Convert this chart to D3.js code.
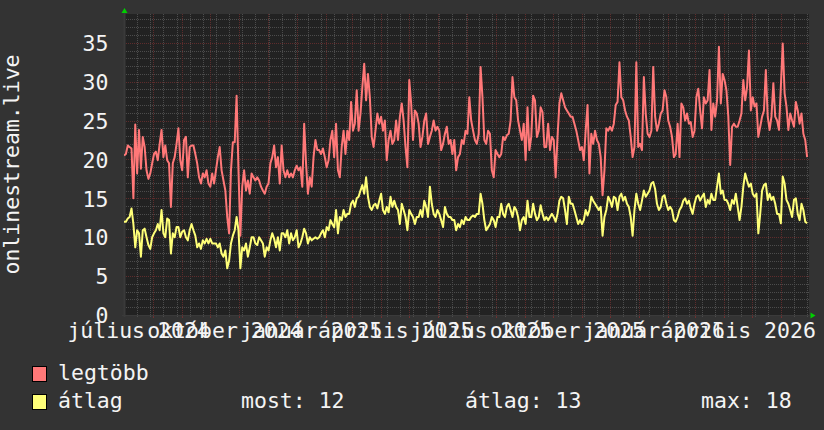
<!DOCTYPE html>
<html>
  <head>
    <meta http-equiv="Content-Type" content="text/html; charset=UTF-8" />
    <title>onlinestream.live</title>
    <script src="https://cdn.jsdelivr.net/npm/d3@7/dist/d3.min.js"></script>
    <style>
      body { margin: 0; background: #333333; }
      svg text { font-family: "DejaVu Sans Mono", monospace; font-size: 21.5px; fill: #f4f4f4; }
    </style>
  </head>
  <body>
    <svg width="824" height="430" id="mainsvg"></svg>
    <script>
        // data: one sample every 2 days, starting 2024-07-01
        const startDay = '2024-07-01';
        const stepDays = 2;
        const maxVals = [
          20.5, 20.7, 21.8, 21.6, 21.4, 15.0, 24.5, 18.2, 23.8, 18.8,
          22.9, 21.6, 18.6, 17.5, 18.2, 19.5, 20.7, 21.0, 19.9, 22.0,
          23.8, 20.3, 21.8, 19.9, 19.5, 13.9, 19.5, 20.3, 22.0, 24.0,
          19.9, 18.6, 22.5, 22.9, 17.7, 21.6, 21.8, 21.8, 20.7, 19.5,
          17.7, 16.9, 18.2, 17.7, 18.6, 16.9, 16.5, 18.2, 16.9, 18.6,
          20.3, 21.6, 18.6, 17.3, 16.0, 12.6, 10.5, 18.6, 22.2, 22.2,
          28.2, 18.6, 10.2, 16.5, 18.6, 16.0, 17.3, 15.6, 18.2, 17.7,
          17.3, 17.7, 17.3, 16.5, 16.0, 15.6, 16.5, 16.9, 19.5, 20.3,
          21.8, 19.0, 20.3, 16.9, 21.8, 18.6, 17.7, 18.6, 17.7, 18.2,
          17.7, 18.6, 19.2, 18.6, 19.0, 16.5, 24.6, 19.5, 15.6, 17.7,
          16.5, 20.3, 22.5, 21.2, 21.2, 20.7, 21.4, 20.3, 19.0, 19.9,
          22.5, 23.7, 20.3, 24.6, 18.6, 17.7, 21.6, 23.7, 20.7, 23.7,
          22.5, 27.4, 23.7, 24.6, 28.9, 23.7, 25.9, 29.3, 32.3, 27.6,
          31.0, 28.0, 22.9, 21.6, 23.7, 25.9, 24.6, 25.5, 23.7, 25.0,
          19.9, 22.5, 23.7, 22.0, 22.5, 25.0, 22.5, 25.5, 27.2, 25.0,
          21.6, 19.0, 30.2, 27.2, 22.5, 26.3, 25.9, 24.6, 21.6, 22.9,
          25.0, 25.9, 22.0, 22.9, 23.7, 25.0, 23.7, 24.2, 23.7, 21.2,
          22.0, 23.3, 24.2, 22.0, 22.5, 20.7, 22.5, 18.6, 20.3, 20.7,
          22.5, 22.0, 23.7, 23.3, 28.0, 25.0, 23.7, 22.5, 22.0, 23.3,
          31.9, 28.0, 22.5, 22.0, 23.7, 23.3, 18.6, 17.7, 21.2, 20.7,
          20.3, 20.7, 22.9, 22.5, 23.1, 23.3, 25.0, 30.6, 28.0, 27.6,
          25.0, 23.7, 22.5, 24.6, 19.9, 26.7, 21.2, 22.9, 28.2, 27.6,
          22.9, 23.7, 26.7, 26.1, 21.6, 21.6, 24.6, 21.2, 22.9, 22.5,
          17.7, 22.9, 27.2, 28.5, 27.6, 26.7, 26.3, 25.9, 25.5, 25.5,
          24.6, 23.7, 22.5, 21.2, 21.6, 19.9, 23.7, 27.0, 18.2, 23.3,
          22.0, 23.7, 22.5, 22.0, 20.3, 15.4, 18.6, 24.0, 23.7, 24.2,
          23.7, 24.6, 27.0, 27.4, 32.5, 28.0, 27.6, 26.3, 25.5, 25.0,
          22.9, 20.3, 21.6, 32.5, 21.6, 22.0, 21.2, 30.6, 25.9, 23.3,
          22.9, 23.7, 31.9, 25.5, 23.7, 24.6, 25.9, 26.3, 28.9, 28.0,
          25.0, 24.2, 22.9, 20.3, 20.7, 24.6, 20.3, 27.2, 26.7, 25.0,
          25.9, 24.6, 24.8, 22.9, 23.7, 28.0, 29.1, 26.3, 24.0, 28.0,
          27.2, 27.6, 31.5, 23.8, 27.2, 25.5, 27.6, 34.5, 27.2, 31.0,
          30.2, 28.9, 25.5, 19.3, 24.2, 24.6, 24.2, 24.2, 25.0, 25.9,
          30.2, 27.6, 29.3, 34.0, 26.3, 28.0, 26.8, 27.2, 22.9, 24.2,
          25.5, 26.3, 31.5, 25.5, 23.8, 25.5, 29.8, 25.5, 25.0, 23.8,
          29.3, 34.9, 28.5, 26.8, 23.8, 25.9, 25.0, 24.2, 27.4, 26.3,
          24.6, 25.9, 23.3, 22.5, 20.3
        ];
        const avgVals = [
          12.0, 12.0, 12.4, 12.6, 13.7, 11.7, 8.7, 10.9, 10.5, 7.5,
          10.9, 11.1, 10.0, 9.0, 8.5, 10.0, 10.5, 10.9, 11.7, 10.9,
          13.5, 10.5, 10.0, 12.4, 12.2, 7.9, 10.5, 10.0, 11.3, 11.3,
          10.0, 10.7, 10.9, 10.0, 9.6, 10.9, 11.7, 10.9, 10.2, 8.7,
          9.2, 8.5, 9.6, 9.2, 9.8, 9.2, 9.8, 9.2, 9.2, 9.2,
          8.7, 9.2, 7.9, 7.5, 8.3, 6.0, 7.0, 9.2, 10.2, 10.9,
          12.6, 10.9, 6.0, 8.7, 8.3, 9.2, 7.5, 8.7, 10.0, 10.0,
          9.2, 9.0, 10.0, 9.6, 9.2, 7.5, 8.7, 8.3, 9.6, 10.5,
          9.8, 8.7, 10.0, 8.3, 10.5, 10.5, 10.0, 10.9, 9.2, 10.5,
          9.6, 10.0, 10.9, 8.7, 9.2, 10.0, 11.1, 10.5, 9.2, 10.0,
          9.6, 9.8, 10.0, 9.8, 10.0, 10.5, 10.9, 10.0, 11.3, 10.9,
          12.2, 11.7, 11.3, 13.5, 10.5, 12.6, 12.2, 13.5, 12.6, 13.0,
          13.0, 14.3, 14.7, 13.9, 15.0, 15.2, 16.0, 16.7, 15.6, 17.7,
          15.2, 13.9, 13.5, 14.1, 14.3, 13.7, 14.7, 15.6, 13.5, 13.0,
          13.9, 13.2, 15.2, 13.9, 14.7, 13.9, 13.5, 11.7, 14.3, 13.5,
          12.6, 10.9, 13.5, 13.0, 12.6, 11.7, 12.6, 12.6, 13.5, 12.6,
          14.7, 13.9, 12.6, 16.5, 14.3, 13.0, 12.6, 13.5, 13.0, 12.2,
          11.3, 13.9, 13.0, 12.6, 12.6, 12.2, 12.2, 10.9, 11.7, 11.3,
          12.2, 11.7, 12.6, 12.2, 12.2, 12.6, 12.8, 12.6, 13.0, 13.0,
          15.6, 14.3, 12.2, 10.9, 11.3, 11.7, 12.6, 12.2, 11.3, 12.6,
          12.6, 14.3, 13.0, 12.6, 13.9, 14.3, 13.5, 12.6, 13.9, 13.5,
          12.6, 10.9, 12.2, 12.6, 11.7, 14.7, 12.6, 12.6, 14.3, 13.0,
          12.2, 12.6, 14.1, 13.0, 12.2, 12.6, 12.2, 12.6, 13.0, 12.6,
          12.0, 13.0, 14.7, 15.2, 15.0, 13.5, 11.7, 15.2, 14.3, 14.3,
          13.5, 12.6, 11.7, 12.2, 11.7, 12.2, 13.5, 12.8, 13.5, 15.2,
          14.7, 14.3, 13.9, 13.5, 13.9, 10.2, 12.6, 13.5, 15.2, 14.7,
          13.9, 15.2, 15.0, 13.5, 15.2, 15.6, 14.7, 15.2, 14.3, 13.9,
          12.6, 10.2, 13.5, 15.6, 14.3, 13.5, 14.7, 16.0, 15.2, 15.6,
          16.0, 16.9, 17.1, 16.2, 14.3, 13.5, 13.9, 15.2, 15.4, 14.3,
          13.5, 13.9, 13.5, 12.2, 12.0, 12.6, 13.5, 13.9, 14.7, 15.0,
          14.3, 14.7, 13.7, 13.0, 14.3, 15.2, 15.4, 14.7, 15.2, 15.6,
          13.9, 14.8, 14.3, 15.6, 14.8, 14.8, 16.5, 18.2, 15.6, 16.0,
          14.8, 14.8, 14.3, 13.5, 14.8, 14.3, 15.6, 13.9, 12.2, 13.9,
          16.5, 18.2, 17.3, 16.5, 16.9, 15.6, 15.2, 15.6, 10.5, 13.0,
          16.0, 16.7, 16.9, 14.8, 15.6, 14.8, 15.2, 14.3, 13.0, 13.0,
          11.8, 17.8, 16.9, 14.8, 14.3, 13.5, 12.6, 14.8, 15.0, 13.0,
          12.2, 14.3, 13.5, 12.0, 11.8
        ];
        const seriesNames = ['legtöbb', 'átlag'];
        const seriesColors = ['#ff7878', '#ffff78'];
        const statLabels = ['most: 12', 'átlag: 13', 'max: 18'];
        const yTicks = [0, 5, 10, 15, 20, 25, 30, 35];
        const xLabelMonths = ['2024-07-01', '2024-10-01', '2025-01-01', '2025-04-01',
                              '2025-07-01', '2025-10-01', '2026-01-01', '2026-04-01'];
        const xLabels = ['július 2024', 'október 2024', 'január 2025', 'április 2025',
                         'július 2025', 'október 2025', 'január 2026', 'április 2026'];
        const yTitle = 'onlinestream.live';

        const svg = d3.select('#mainsvg');
        const width = +svg.attr('width');
        const height = +svg.attr('height');
        const plot = {left: 124, right: 809, top: 14, bottom: 315};
        const DAY = 864e5;
        const parse = d3.utcParse('%Y-%m-%d');
        const t0 = parse(startDay);

        const xScale = d3.scaleUtc()
          .domain([t0, d3.utcYear.offset(t0, 2)])
          .range([plot.left, plot.right]);
        const yScale = d3.scaleLinear()
          .domain([0, 38.7])
          .range([plot.bottom, plot.top]);
        // rounded copies for crisp grid lines
        const xGrid = xScale.copy().interpolate(d3.interpolateRound);
        const yGrid = yScale.copy().interpolate(d3.interpolateRound);

        const toRows = vals => vals.map((v, i) => ({date: new Date(+t0 + i * stepDays * DAY), v: v}));
        const series = [toRows(maxVals), toRows(avgVals)];

        svg.append('rect').attr('width', width).attr('height', height).attr('fill', '#333333');
        svg.append('rect')
          .attr('x', plot.left).attr('y', plot.top)
          .attr('width', plot.right - plot.left).attr('height', plot.bottom - plot.top)
          .attr('fill', '#222222');

        const pw = plot.right - plot.left;
        const ph = plot.bottom - plot.top;

        // minor grid
        const yMinor = d3.range(1, 39).filter(v => v % 5 !== 0);
        const gyMinor = svg.append('g').attr('transform', `translate(${plot.left},0)`)
          .call(d3.axisLeft(yGrid).tickValues(yMinor).tickSize(-pw).tickFormat(''));
        const xMinor = d3.range(14, 730, 14).map(d => d3.utcDay.offset(t0, d));
        const gxMinor = svg.append('g').attr('transform', `translate(0,${plot.top})`)
          .call(d3.axisTop(xGrid).tickValues(xMinor).tickSize(-ph - 2).tickFormat(''));
        [gyMinor, gxMinor].forEach(g => {
          g.select('.domain').remove();
          g.selectAll('line').attr('stroke', '#4c4c4c').attr('stroke-dasharray', '1,1');
        });

        // major grid
        const xMajor = d3.utcMonth.range(d3.utcMonth.offset(t0, 1), d3.utcYear.offset(t0, 2));
        const gxMajor = svg.append('g').attr('transform', `translate(0,${plot.top})`)
          .call(d3.axisTop(xGrid).tickValues(xMajor).tickSize(-ph).tickFormat(''));
        const gyMajor = svg.append('g').attr('transform', `translate(${plot.left},0)`)
          .call(d3.axisLeft(yGrid).tickValues(yTicks.filter(v => v > 0)).tickSize(-pw).tickFormat(''));
        [gyMajor, gxMajor].forEach(g => {
          g.select('.domain').remove();
          g.selectAll('line').attr('stroke', '#5e2c2c').attr('stroke-dasharray', '1,1');
        });
        // small ticks under the x axis
        svg.append('g').selectAll('line').data(xMajor).join('line')
          .attr('x1', d => xGrid(d) + 0.5).attr('x2', d => xGrid(d) + 0.5)
          .attr('y1', plot.bottom).attr('y2', plot.bottom + 3)
          .attr('stroke', '#6e3030');

        // axis lines
        svg.append('line')
          .attr('x1', plot.left + 0.5).attr('x2', plot.left + 0.5)
          .attr('y1', plot.top - 2).attr('y2', plot.bottom + 2)
          .attr('stroke', '#3a3a3a').attr('stroke-width', 2);
        svg.append('line')
          .attr('x1', plot.left - 2).attr('x2', plot.right + 2)
          .attr('y1', plot.bottom + 0.5).attr('y2', plot.bottom + 0.5)
          .attr('stroke', '#3a3a3a').attr('stroke-width', 1);

        // y tick labels
        const gy = svg.append('g').attr('transform', `translate(${plot.left},0)`)
          .call(d3.axisLeft(yScale).tickValues(yTicks).tickSize(0).tickPadding(15.5).tickFormat(d3.format('d')));
        gy.select('.domain').remove();
        gy.attr('font-family', null).attr('font-size', null);
        gy.selectAll('text').attr('dy', '0.36em');

        // x labels, centred half a month after the label month
        const labelDates = xLabelMonths.map(s => d3.utcDay.offset(parse(s), 15));
        const gx = svg.append('g').attr('transform', `translate(0,${plot.bottom})`)
          .call(d3.axisBottom(xScale).tickValues(labelDates).tickSize(0)
            .tickFormat((d, i) => xLabels[i]));
        gx.select('.domain').remove();
        gx.attr('font-family', null).attr('font-size', null);
        gx.selectAll('text').attr('y', 23).attr('dy', null);

        // lines
        svg.append('clipPath').attr('id', 'clip').append('rect')
          .attr('x', plot.left).attr('y', plot.top - 2)
          .attr('width', pw).attr('height', ph + 2);
        const line = d3.line().x(d => xScale(d.date)).y(d => yScale(d.v));
        svg.append('g').attr('clip-path', 'url(#clip)')
          .selectAll('path').data(series).join('path')
          .attr('d', line)
          .attr('fill', 'none')
          .attr('stroke', (d, i) => seriesColors[i])
          .attr('stroke-width', 2)
          .attr('stroke-linejoin', 'round');

        // arrows
        svg.append('path')
          .attr('d', `M${plot.left - 2.5},${plot.top - 1}L${plot.left + 3.5},${plot.top - 1}L${plot.left + 0.5},${plot.top - 6}Z`)
          .attr('fill', '#00d000');
        svg.append('path')
          .attr('d', `M${plot.right + 1.5},${plot.bottom - 2.5}L${plot.right + 1.5},${plot.bottom + 3.5}L${plot.right + 6.5},${plot.bottom + 0.5}Z`)
          .attr('fill', '#00d000');

        // vertical title
        svg.append('text')
          .attr('transform', `translate(19,${(plot.top + plot.bottom) / 2}) rotate(-90)`)
          .attr('text-anchor', 'middle')
          .text(yTitle);

        // legend
        const legend = svg.append('g').selectAll('g').data(seriesNames).join('g')
          .attr('transform', (d, i) => `translate(0,${i * 28})`);
        legend.append('rect')
          .attr('x', 32.5).attr('y', 366.5).attr('width', 14).attr('height', 15)
          .attr('fill', (d, i) => seriesColors[i])
          .attr('stroke', '#000000');
        legend.append('text')
          .attr('x', 58).attr('y', 380)
          .text(d => d);

        svg.append('g').selectAll('text').data(statLabels).join('text')
          .attr('x', (d, i) => [241, 465, 701][i])
          .attr('y', 408)
          .text(d => d);
    </script>
  </body>
</html>
